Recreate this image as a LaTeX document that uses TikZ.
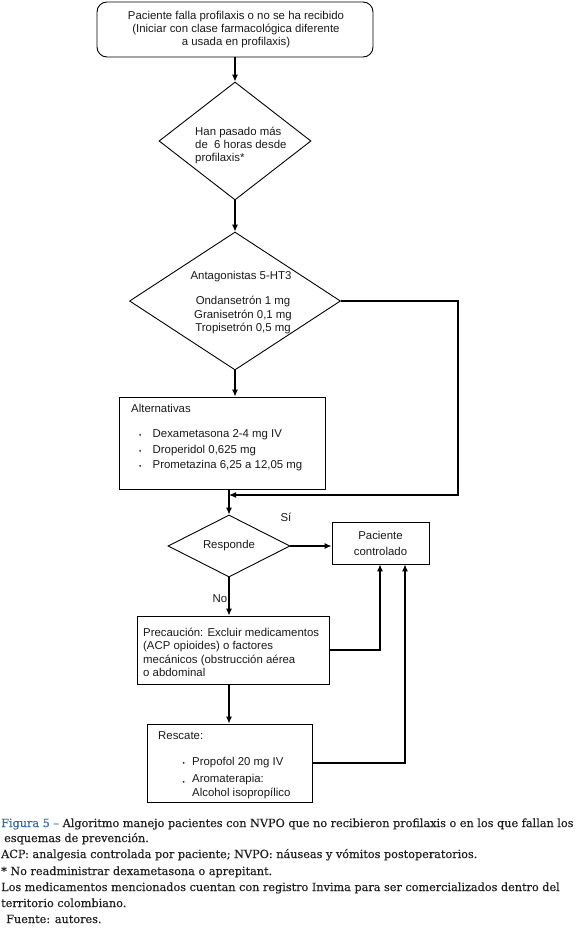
\documentclass[tikz,border=0pt]{standalone}
\usepackage{fontspec}
\setmainfont{Liberation Sans}
\newfontfamily\capfont{DejaVu Serif}[FakeBold=0.35]
\usetikzlibrary{shapes.geometric,arrows.meta}
\definecolor{figblue}{HTML}{3567A8}
\newcommand{\smbul}{{\fontsize{6.5}{6.5}\selectfont\textbullet}}
\begin{document}
\begin{tikzpicture}[x=1pt,y=-1pt,
  every node/.style={inner sep=0pt, font=\fontsize{11.4}{13.4}\selectfont, text=black!90},
  box/.style={draw, line width=0.9pt, rectangle},
  dia/.style={draw, line width=0.9pt, diamond},
  arr/.style={line width=1.1pt, -{Latex[length=7pt,width=6pt]}},
  ln/.style={line width=1.1pt},
  captxt/.style={anchor=base west, font=\capfont\fontsize{11.25}{13}\selectfont, text=black!88}]
\useasboundingbox (0,0) rectangle (580,931);
% shapes
\node[box, rounded corners=10pt, minimum width=276pt, minimum height=55pt] (top) at (235,29.5) {};
\node[dia, minimum width=152pt, minimum height=118pt] (d1) at (235,141) {};
\node[dia, minimum width=211pt, minimum height=138pt] (d2) at (235,301) {};
\node[box, minimum width=206pt, minimum height=92pt] (alt) at (222,443) {};
\node[dia, minimum width=122pt, minimum height=62pt] (resp) at (229,546) {};
\node[box, minimum width=97pt, minimum height=42pt] (pc) at (380.5,543) {};
\node[box, minimum width=192pt, minimum height=68pt] (prec) at (233,650) {};
\node[box, minimum width=165pt, minimum height=78pt] (resc) at (229.5,763) {};
% texts
\node[align=center] (ttop) at (236,29.5) {Paciente falla profilaxis o no se ha recibido\\(Iniciar con clase farmacológica diferente\\a usada en profilaxis)};
\node[align=left, anchor=west] (td1) at (195,145.5) {Han pasado más\\de \ 6 horas desde\\profilaxis*};
\node (td2a) at (241,277) {Antagonistas 5-HT3};
\node[align=center] (td2b) at (243,315) {Ondansetrón 1 mg\\Granisetrón 0,1 mg\\Tropisetrón 0,5 mg};
\node[anchor=west] (talt) at (131,408) {Alternativas};
\node[align=left, anchor=west, font=\fontsize{11.4}{15.5}\selectfont] (talt2) at (139,450.5) {\makebox[13.5pt][l]{\smbul}Dexametasona 2-4 mg IV\\\makebox[13.5pt][l]{\smbul}Droperidol 0,625 mg\\\makebox[13.5pt][l]{\smbul}Prometazina 6,25 a 12,05 mg};
\node (tresp) at (229,546) {Responde};
\node[align=center, font=\fontsize{11.4}{16}\selectfont] (tpc) at (380.5,543) {Paciente\\controlado};
\node (tsi) at (286,517) {Sí};
\node (tno) at (220,599) {No};
\node[align=left, anchor=west] (tprec) at (143,652.5) {Precaución: Excluir medicamentos\\(ACP opioides) o factores\\mecánicos (obstrucción aérea\\o abdominal};
\node[anchor=west] (tresc) at (158,736) {Rescate:};
\node[anchor=west] (tresc2) at (182.5,763) {\makebox[9.5pt][l]{\smbul}Propofol 20 mg IV};
\node[align=left, anchor=west] (tresc3) at (182.5,786.5) {\makebox[9.5pt][l]{\raisebox{-1.5pt}{\smbul}}Aromaterapia:\\\hspace*{9.5pt}Alcohol isopropílico};
% connectors
\coordinate (c1) at (458,301);
\coordinate (c2) at (458,495);
\coordinate (j) at (229,495);
\coordinate (c3) at (380,652);
\coordinate (c4) at (405,763);
\draw[arr] (top) -- (d1);
\draw[arr] (d1) -- (d2);
\draw[arr] (d2.south) -- (d2.south |- alt.north);
\draw[arr] (alt.south -| resp.north) -- (resp.north);
\draw[arr] (d2.east) -- (c1) -- (c2) -- (j);
\draw[arr] (resp.east) -- (resp.east -| pc.west);
\draw[arr] (resp.south) -- (resp.south |- prec.north);
\draw[arr] (resp.south |- prec.south) -- (resp.south |- resc.north);
\draw[arr] (prec.east) -- (prec.east -| c3) -- (c3 |- pc.south);
\draw[arr] (resc.east) -- (resc.east -| c4) -- (c4 |- pc.south);
% caption
\node[captxt] (cap1) at (1,827) {{\color{figblue}Figura 5 –} Algoritmo manejo pacientes con NVPO que no recibieron profilaxis o en los que fallan los};
\node[captxt] (cap2) at (4,842) {esquemas de prevención.};
\node[captxt] (cap3) at (1,858) {ACP: analgesia controlada por paciente; NVPO: náuseas y vómitos postoperatorios.};
\node[captxt] (cap4) at (1,875) {* No readministrar dexametasona o aprepitant.};
\node[captxt] (cap5) at (1,891) {Los medicamentos mencionados cuentan con registro Invima para ser comercializados dentro del};
\node[captxt] (cap6) at (1,907) {territorio colombiano.};
\node[captxt] (cap7) at (6,923) {Fuente: autores.};
\end{tikzpicture}
\end{document}
